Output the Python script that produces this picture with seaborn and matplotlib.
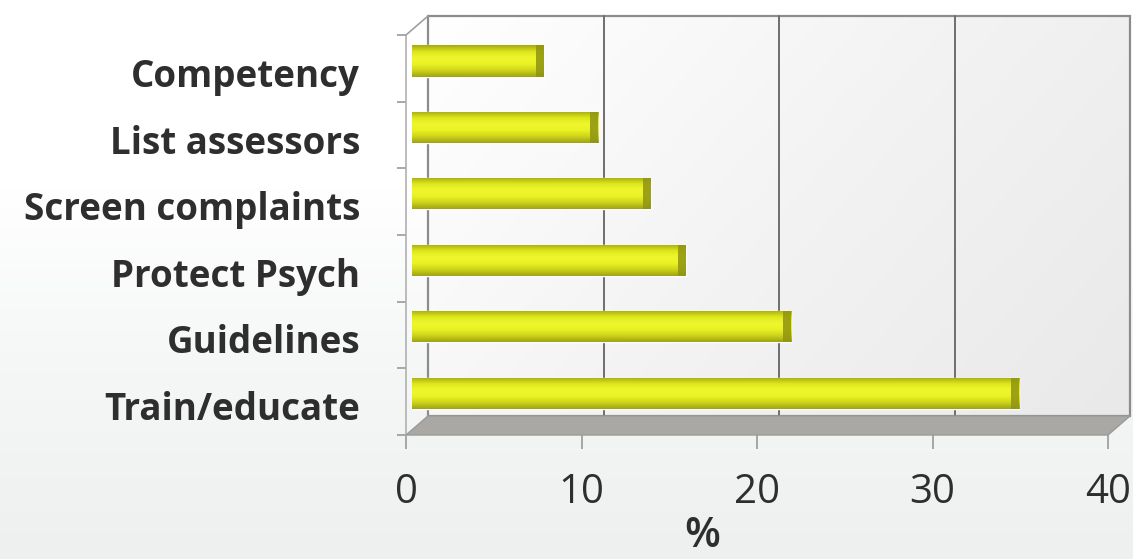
import numpy as np
import pandas as pd
import matplotlib
matplotlib.use("Agg")
import matplotlib.pyplot as plt
import matplotlib.transforms as mtransforms
from matplotlib.patches import Polygon, Rectangle
from matplotlib.lines import Line2D
import seaborn as sns

# Share of responses (%) per suggested measure
categories = ["Competency", "List assessors", "Screen complaints",
              "Protect Psych", "Guidelines", "Train/educate"]
percent = [7.5, 10.6, 13.6, 15.6, 21.6, 34.6]
x_ticks = [0, 10, 20, 30, 40]
x_label = "%"

df = pd.DataFrame({"category": categories, "percent": percent})

sns.set_theme(style="white")
plt.rcParams["font.family"] = ["Open Sans", "DejaVu Sans"]

W, H, DPI = 1133, 559, 100
fig = plt.figure(figsize=(W / DPI, H / DPI), dpi=DPI)

def px(dx, dy):
    """Pixel offset as a transform."""
    return mtransforms.ScaledTranslation(dx / DPI, dy / DPI, fig.dpi_scale_trans)

# soft page background: white fading to light grey at the bottom
bg = fig.add_axes([0, 0, 1, 1], zorder=-10)
grad = np.linspace(1.0, 0.0, 256).reshape(-1, 1)
bg.imshow(grad, aspect="auto", cmap=matplotlib.colors.LinearSegmentedColormap.from_list(
    "page", ["#eef0f0", "#f5f6f6", "#ffffff", "#ffffff"]), extent=[0, 1, 0, 1])
bg.set_axis_off()

# plot area (front plane)
left_px, right_px, top_px, bot_px = 406, 1108, 35, 435
ax = fig.add_axes([left_px / W, 1 - bot_px / H,
                   (right_px - left_px) / W, (bot_px - top_px) / H])
ax.set_facecolor("none")
YLIM = (5.63, -0.39)
ax.set_xlim(0, 40)
ax.set_ylim(*YLIM)

# depth offset of the back wall (in pixels)
DX, DY = 22, 19
back = ax.transData + px(DX, DY)
back_ax = ax.transAxes + px(DX, DY)

# back wall with light gradient
ax.add_patch(Polygon([(0, 0), (1, 0), (1, 1), (0, 1)], closed=True, transform=back_ax,
                     facecolor="none", edgecolor="#8c8c8c", lw=1.6, zorder=0.5, clip_on=False))
ax.imshow(np.linspace(0, 1, 256).reshape(1, -1) + np.linspace(0, 0.5, 256).reshape(-1, 1),
          cmap=matplotlib.colors.LinearSegmentedColormap.from_list(
              "wall", ["#ffffff", "#f3f3f3", "#e9e9e9"]),
          extent=[0, 1, 0, 1], transform=back_ax, aspect="auto",
          zorder=0.2, clip_on=False)

# vertical gridlines on the back wall
for t in x_ticks[1:-1]:
    ax.plot([t, t], list(YLIM), color="#6e6e6e", lw=1.4, transform=back, zorder=0.6, clip_on=False)

# bars, set slightly into the depth of the plot
sns.barplot(data=df, x="percent", y="category", orient="h", order=categories,
            color="#e6ee1c", width=0.47, saturation=1, ax=ax, zorder=2)
bars = [p for p in ax.patches if isinstance(p, Rectangle)]
bar_tr = ax.transData + px(6, 0)

shade = matplotlib.colors.LinearSegmentedColormap.from_list(
    "cyl", ["#a6aa14", "#dde61a", "#f0f62e", "#eaf224", "#cdd41a", "#a0a412"])
for bar in bars:
    bar.set_transform(bar_tr)
    x0, y0 = bar.get_x(), bar.get_y()
    w, h = bar.get_width(), bar.get_height()
    im = ax.imshow(np.linspace(0, 1, 64).reshape(-1, 1), cmap=shade, aspect="auto",
                   extent=[x0, x0 + w, y0 + h, y0], zorder=2.1, transform=bar_tr)
    im.set_clip_path(bar)
    # dark end cap of the bar
    ax.add_patch(Rectangle((x0 + w - 0.45, y0), 0.45, h, facecolor="#8f9412",
                           edgecolor="none", alpha=0.85, zorder=2.2, transform=bar_tr))

ax.set_xlim(0, 40)
ax.set_ylim(*YLIM)

# floor of the plot area and the top-left depth edge
p0 = np.array(ax.transData.transform((0, YLIM[0])))
p1 = np.array(ax.transData.transform((40, YLIM[0])))
off = np.array([DX, DY])
fig.patches.append(Polygon([p0, p1, p1 + off, p0 + off], closed=True, transform=None,
                           facecolor="#a9a8a4", edgecolor="#9a9a96", lw=1, zorder=0.7))
tl = np.array(ax.transData.transform((0, YLIM[1])))
fig.lines.append(Line2D([tl[0], tl[0] + DX], [tl[1], tl[1] + DY],
                        transform=None, color="#a0a0a0", lw=1.2))

# axes styling
for s in ["top", "right", "bottom"]:
    ax.spines[s].set_visible(False)
ax.spines["left"].set_color("#b0b0b0")
ax.spines["left"].set_linewidth(1.2)

ax.set_xticks(x_ticks)
ax.set_xticklabels([str(t) for t in x_ticks], fontsize=29, color="#2e2e2e")
ax.tick_params(axis="x", length=10, width=1.2, color="#9a9a9a", pad=17, direction="out",
               bottom=True)
ax.set_xlabel(x_label, fontsize=30, color="#2e2e2e", fontweight="semibold", va="bottom")
ax.xaxis.set_label_coords((702 - left_px) / (right_px - left_px), -(557 - bot_px) / (bot_px - top_px))

ax.set_yticks(range(len(categories)))
ax.set_yticklabels(categories, fontsize=26.5, fontweight="bold", color="#2e2e2e")
ax.tick_params(axis="y", length=0, pad=33)
for lab in ax.get_yticklabels():
    lab.set_transform(lab.get_transform() + px(0, -12))
ax.set_yticks(np.linspace(YLIM[1], YLIM[0], 7), minor=True)
ax.tick_params(axis="y", which="minor", length=6.5, width=1.2, color="#9a9a9a", left=True)
ax.set_ylabel("")

fig.savefig("out.png", dpi=DPI)
